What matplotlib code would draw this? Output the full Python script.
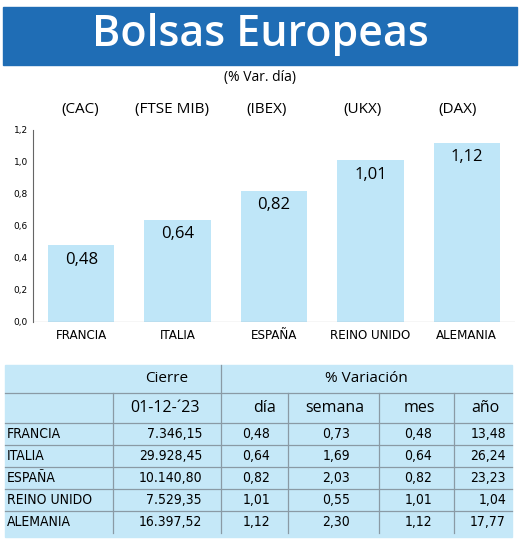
import matplotlib
matplotlib.use("Agg")
import matplotlib.pyplot as plt
from matplotlib.patches import Rectangle

paises = ["FRANCIA", "ITALIA", "ESPAÑA", "REINO UNIDO", "ALEMANIA"]
indices = ["(CAC)", "(FTSE MIB)", "(IBEX)", "(UKX)", "(DAX)"]
var_dia = [0.48, 0.64, 0.82, 1.01, 1.12]
cierre = ["7.346,15", "29.928,45", "10.140,80", "7.529,35", "16.397,52"]
semana = ["0,73", "1,69", "2,03", "0,55", "2,30"]
mes = ["0,48", "0,64", "0,82", "1,01", "1,12"]
anio = ["13,48", "26,24", "23,23", "1,04", "17,77"]
yticks = [0.0, 0.2, 0.4, 0.6, 0.8, 1.0, 1.2]

W, H = 520, 550
fig = plt.figure(figsize=(W/100, H/100), dpi=100)
bg = fig.add_axes([0, 0, 1, 1])
bg.set_xlim(0, W); bg.set_ylim(H, 0); bg.axis("off")

fnt = "Open Sans"
bg.add_patch(Rectangle((3, 7), 514, 58, color="#1f6db5"))
bg.text(260, 35, "Bolsas Europeas", color="white", fontsize=31, ha="center", va="center",
        family=fnt, weight="semibold")
bg.text(260, 77, "(% Var. día)", fontsize=10, ha="center", va="center", family=fnt)

centers = [80, 172, 267, 362, 458]
for cx, t in zip(centers, indices):
    bg.text(cx, 109, t, fontsize=11, ha="center", va="center", family=fnt)

ax = fig.add_axes([33/W, 1-322/H, (515-33)/W, (322-130)/H])
xs = list(range(len(paises)))
ax.bar(xs, var_dia, width=0.69, color="#bfe6f8")
ax.set_xlim(-0.5, 4.5)
ax.set_ylim(0, 1.2)
ax.set_yticks(yticks)
ax.set_yticklabels([f"{v:.1f}".replace(".", ",") for v in yticks], fontsize=6.5)
ax.set_xticks(xs)
ax.set_xticklabels(paises, fontsize=9.5, family="DejaVu Sans", fontstretch="condensed")
for t in ax.get_xticklabels():
    t.set_family("DejaVu Sans Condensed") if False else None
ax.tick_params(axis="x", length=0, pad=5)
ax.tick_params(axis="y", length=0, pad=14)
for s in ["top", "right", "bottom"]:
    ax.spines[s].set_visible(False)
ax.spines["left"].set_color("#666666")
ax.axhline(0, color="#666666", lw=0.8)
for x, v in zip(xs, var_dia):
    ax.text(x, v - 0.09, f"{v:.2f}".replace(".", ","), ha="center",
            va="center", fontsize=12, family=fnt)
ax.set_facecolor("none")
for t in ax.get_yticklabels():
    t.set_ha("left")

bg.add_patch(Rectangle((5, 365), 507, 172, color="#c5e8f8", zorder=0))
ys = [365, 393, 423, 445, 467, 489, 511, 533]
line = dict(color="#8a9aa5", lw=0.9)
for y in ys[1:-1]:
    bg.plot([5, 512], [y, y], **line)
bg.plot([221, 221], [365, 533], **line)
for x in [113, 288, 379, 454]:
    bg.plot([x, x], [393, 533], **line)
bg.text(167, 379, "Cierre", fontsize=11, ha="center", va="center", family=fnt)
bg.text(366, 379, "% Variación", fontsize=11, ha="center", va="center", family=fnt)
hdr = [("01-12-´23", 200), ("día", 276), ("semana", 364), ("mes", 435), ("año", 500)]
for t, x in hdr:
    bg.text(x, 408, t, fontsize=11.5, ha="right", va="center", family=fnt)
tf = dict(fontsize=10, va="center", family="DejaVu Sans", fontstretch="condensed")
for i in range(5):
    yc = (ys[i+2] + ys[i+3]) / 2
    bg.text(7, yc, paises[i], ha="left", **tf)
    bg.text(202, yc, cierre[i], ha="right", **tf)
    bg.text(270, yc, f"{var_dia[i]:.2f}".replace(".", ","), ha="right", **tf)
    bg.text(350, yc, semana[i], ha="right", **tf)
    bg.text(432, yc, mes[i], ha="right", **tf)
    bg.text(506, yc, anio[i], ha="right", **tf)

fig.savefig("out.png", dpi=100)
